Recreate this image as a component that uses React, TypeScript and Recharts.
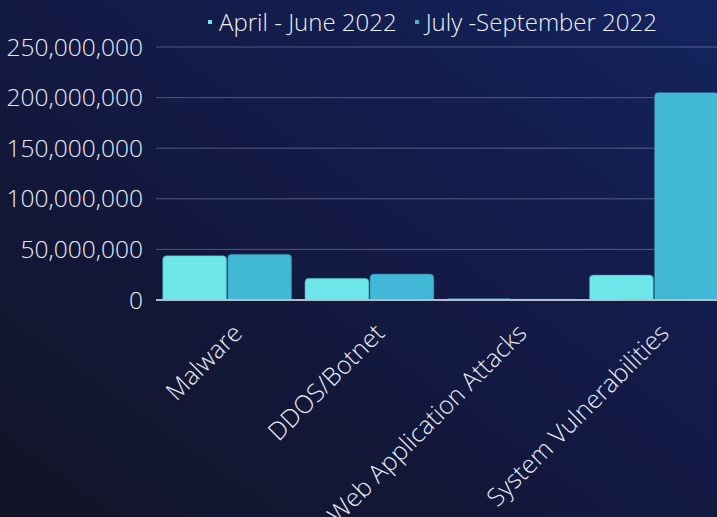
import React from "react";
import { BarChart, Bar, XAxis, YAxis, CartesianGrid, Legend } from "recharts";

const categories = ["Malware", "DDOS/Botnet", "Web Application Attacks", "System Vulnerabilities"];
const aprJun = [43800000, 21400000, 1200000, 24700000];
const julSep = [45200000, 25700000, 1000000, 205000000];
const yTicks = [0, 50000000, 100000000, 150000000, 200000000, 250000000];
const seriesNames = ["April - June 2022", "July -September 2022"];

const data = categories.map((c, i) => ({ name: c, a: aprJun[i], b: julSep[i] }));

const FONT = "'Open Sans', sans-serif";

const fmt = (v: number) => v.toLocaleString("en-US");

const XTick = (props: any) => {
  const { x, y, payload } = props;
  return (
    <g transform={`translate(${x + 11},${y + 21})`}>
      <text
        x={0}
        y={0}
        dy={8}
        textAnchor="end"
        transform="rotate(-45)"
        fill="#e8ecf5"
        fontSize={25}
        fontWeight={300}
        fontFamily={FONT}
      >
        {payload.value}
      </text>
    </g>
  );
};

const renderLegend = () => (
  <div
    style={{
      display: "flex",
      justifyContent: "center",
      gap: 18,
      fontFamily: FONT,
      fontWeight: 300,
      fontSize: 24,
      color: "#eef1f8",
      paddingLeft: 148,
      lineHeight: "30px",
    }}
  >
    {seriesNames.map((n, i) => (
      <span key={n} style={{ display: "inline-flex", alignItems: "center" }}>
        <span
          style={{
            width: 4,
            height: 4,
            background: i === 0 ? "#6ce6e8" : "#40b8d6",
            display: "inline-block",
            marginRight: 7,
          }}
        />
        {n}
      </span>
    ))}
  </div>
);

export default function App() {
  return (
    <div
      style={{
        position: "fixed",
        left: 0,
        top: 0,
        width: 717,
        height: 517,
        overflow: "hidden",
        background: "linear-gradient(to top right, #121426 0%, #131a45 55%, #13245e 100%)",
      }}
    >
      <BarChart
        width={730}
        height={517}
        data={data}
        margin={{ top: 17, right: 5, left: 0, bottom: 0 }}
        barCategoryGap="4.7%"
        barGap={1}
      >
        <CartesianGrid vertical={false} stroke="rgba(200,205,230,0.35)" strokeWidth={1} />
        <Legend
          verticalAlign="top"
          align="center"
          content={renderLegend}
          wrapperStyle={{ top: 7, left: 0, width: 717, height: 30 }}
        />
        <XAxis
          dataKey="name"
          interval={0}
          tick={<XTick />}
          tickLine={false}
          axisLine={{ stroke: "#b8bcc8", strokeWidth: 2 }}
          height={217}
        />
        <YAxis
          domain={[0, 250000000]}
          ticks={yTicks}
          tickFormatter={fmt}
          axisLine={false}
          tickLine={false}
          width={156}
          tickMargin={7}
          tick={{ fill: "#e8ecf5", fontSize: 24.5, fontWeight: 300, fontFamily: FONT }}
        />
        <Bar dataKey="a" name={seriesNames[0]} fill="#6ce6e8" stroke="#3a8aa8" strokeWidth={0.5} radius={[4, 4, 0, 0]} isAnimationActive={false} />
        <Bar dataKey="b" name={seriesNames[1]} fill="#40b8d6" stroke="#2a6a90" strokeWidth={0.5} radius={[4, 4, 0, 0]} isAnimationActive={false} />
      </BarChart>
    </div>
  );
}
